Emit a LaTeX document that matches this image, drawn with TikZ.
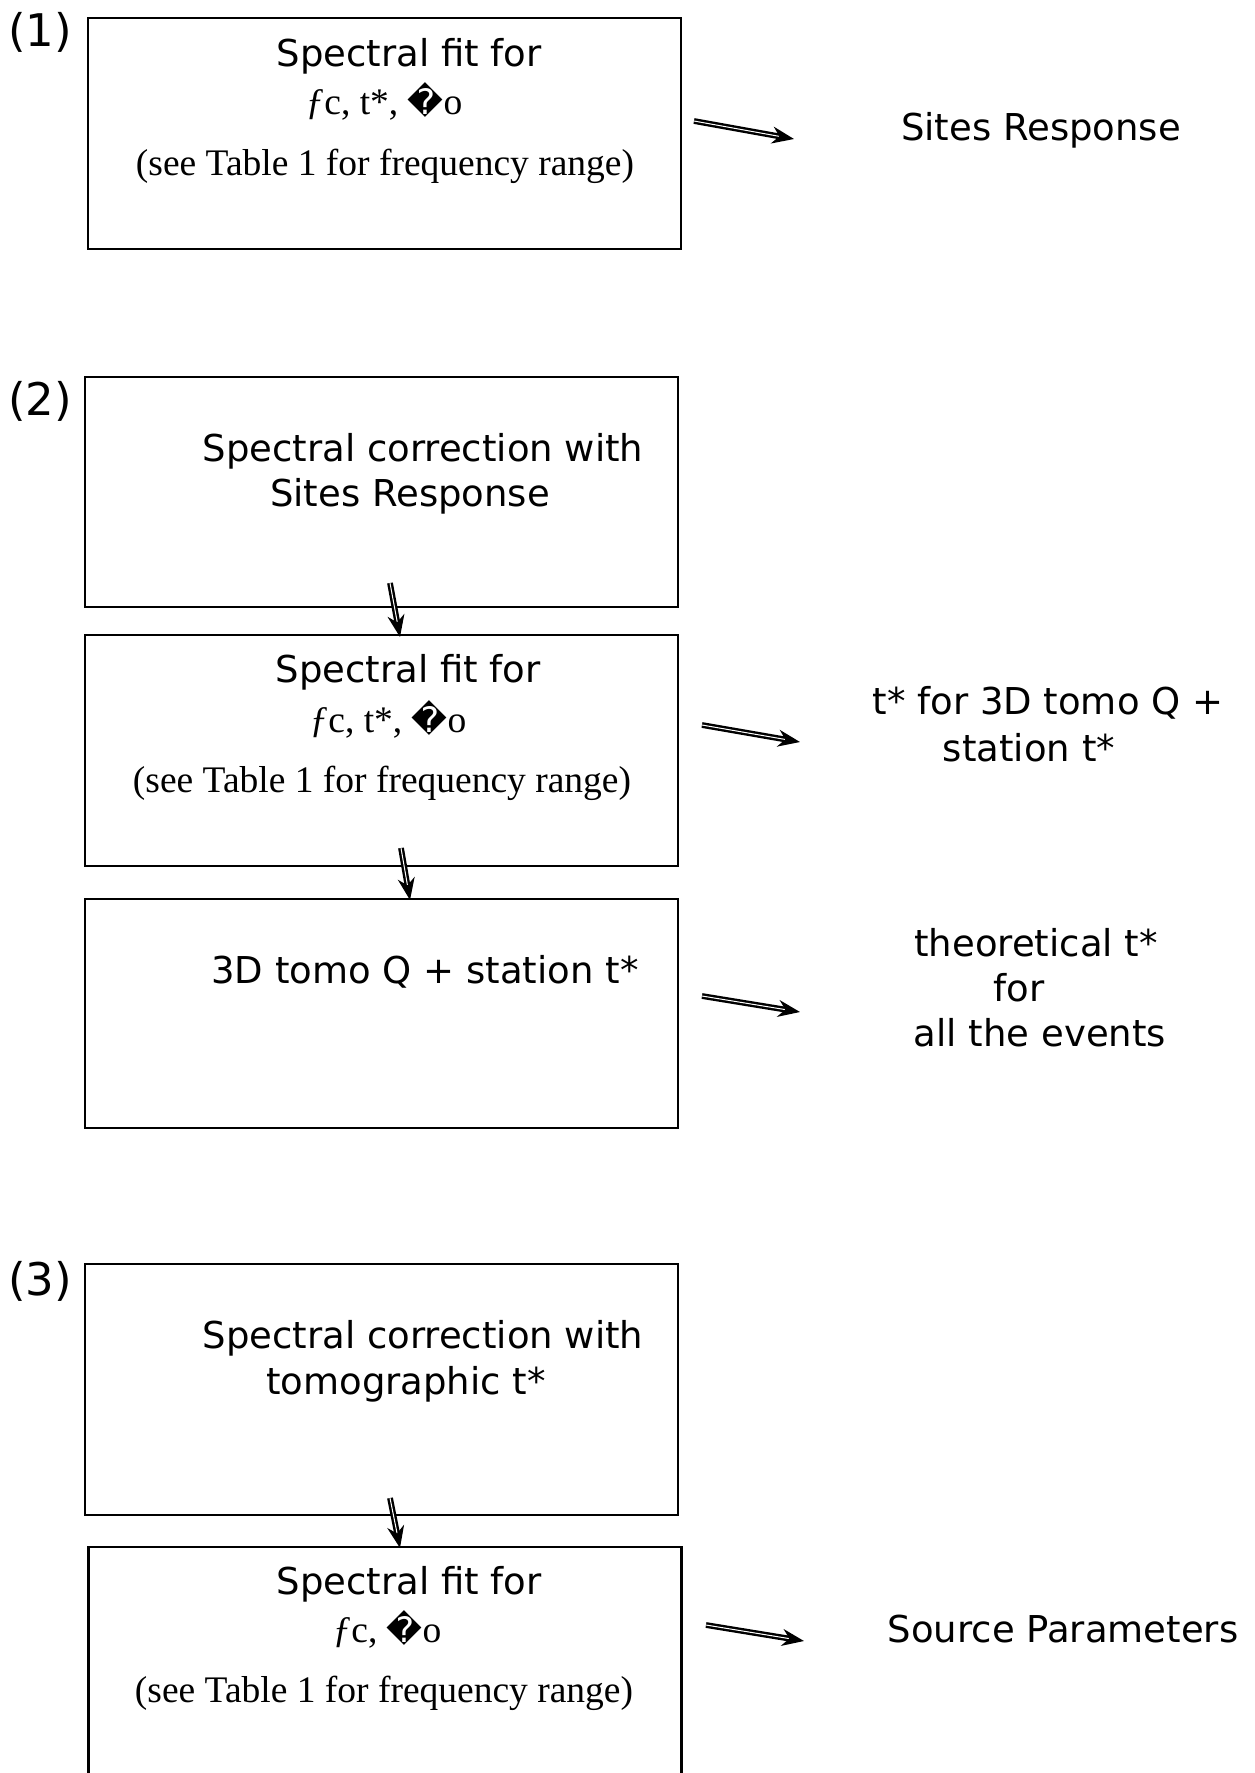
\documentclass[tikz,border=0pt]{standalone}
\usepackage{fontspec}
\setmainfont{DejaVu Sans}
\newfontfamily\timesfont{Liberation Serif}
\newfontfamily\glyphfont{DejaVu Sans}
\usetikzlibrary{arrows.meta}

\tikzset{
  stagebox/.style={draw, line width=2.2pt, minimum width=593pt, inner sep=0pt},
  steplabel/.style={font=\fontsize{45}{54}\selectfont, inner sep=0pt},
  sanstext/.style={font=\fontsize{37}{45}\selectfont, inner sep=0pt},
  seriftext/.style={font=\timesfont\fontsize{37.5}{45}\selectfont, inner sep=0pt},
  flowarrow/.style={line width=2.4pt, double, double distance=1pt, -{Stealth[length=22pt,width=17pt]}}
}
\newcommand{\fitvars}{\textit{ƒ}c, t*, {\glyphfont\fontsize{35}{42}\selectfont �}o}
\newcommand{\fitvarsnot}{\textit{ƒ}c, {\glyphfont\fontsize{35}{42}\selectfont �}o}

\begin{document}
\begin{tikzpicture}[x=1pt,y=-1pt]
\useasboundingbox (0,0) rectangle (1254,1773);
% step (1)
\node[steplabel] (lab1) at (40,32) {(1)};
\node[stagebox, minimum height=231pt] (fit1) at (384.5,133.5) {};
\node[sanstext] (fit1a) at (409,56) {Spectral fit for};
\node[seriftext] (fit1b) at (384,101) {\fitvars};
\node[seriftext] (fit1c) at (385,166) {(see Table 1 for frequency range)};
\node[sanstext] (site) at (1041,130) {Sites Response};
\coordinate (a1s) at (694,121);
\coordinate (a1e) at (794,139);
\draw[flowarrow] (a1s) -- (a1e);
% step (2)
\node[steplabel] (lab2) at (40,401) {(2)};
\node[stagebox, minimum height=230pt] (corr2) at (381.5,492) {};
\node[sanstext] (corr2a) at (423,451) {Spectral correction with};
\node[sanstext] (corr2b) at (410,496) {Sites Response};
\node[stagebox, minimum height=231pt] (fit2) at (381.5,750.5) {};
\node[sanstext] (fit2a) at (408,672) {Spectral fit for};
\node[seriftext] (fit2b) at (388,719) {\fitvars};
\node[seriftext] (fit2c) at (382,783) {(see Table 1 for frequency range)};
\node[stagebox, minimum height=229pt] (tomo2) at (381.5,1013.5) {};
\node[sanstext] (tomo2a) at (425,972) {3D tomo Q + station t*};
\node[sanstext] (out2a) at (1048,703) {t* for 3D tomo Q +};
\node[sanstext] (out2b) at (1029,748) {station t*};
\node[sanstext] (out3a) at (1036,943) {theoretical t*};
\node[sanstext] (out3b) at (1019,988) {for};
\node[sanstext] (out3c) at (1040,1033) {all the events};
\coordinate (a2s) at (390,583);
\coordinate (a2e) at (400,637);
\coordinate (a3s) at (401,848);
\coordinate (a3e) at (410,900);
\coordinate (a4s) at (702,725);
\coordinate (a4e) at (800,742);
\coordinate (a5s) at (702,996);
\coordinate (a5e) at (800,1012);
\draw[flowarrow] (a2s) -- (a2e);
\draw[flowarrow] (a3s) -- (a3e);
\draw[flowarrow] (a4s) -- (a4e);
\draw[flowarrow] (a5s) -- (a5e);
% step (3)
\node[steplabel] (lab3) at (40,1281) {(3)};
\node[stagebox, minimum height=251pt] (corr3) at (381.5,1389.5) {};
\node[sanstext] (corr3a) at (423,1338) {Spectral correction with};
\node[sanstext] (corr3b) at (406,1384) {tomographic t*};
\node[stagebox, minimum height=280pt] (fit3) at (385,1687) {};
\node[sanstext] (fit3a) at (409,1584) {Spectral fit for};
\node[seriftext] (fit3b) at (387,1629) {\fitvarsnot};
\node[seriftext] (fit3c) at (384,1693) {(see Table 1 for frequency range)};
\node[sanstext] (src) at (1063,1629) {Source Parameters};
\coordinate (a6s) at (390,1498);
\coordinate (a6e) at (400,1548);
\coordinate (a7s) at (706,1625);
\coordinate (a7e) at (804,1641);
\draw[flowarrow] (a6s) -- (a6e);
\draw[flowarrow] (a7s) -- (a7e);
\end{tikzpicture}
\end{document}
